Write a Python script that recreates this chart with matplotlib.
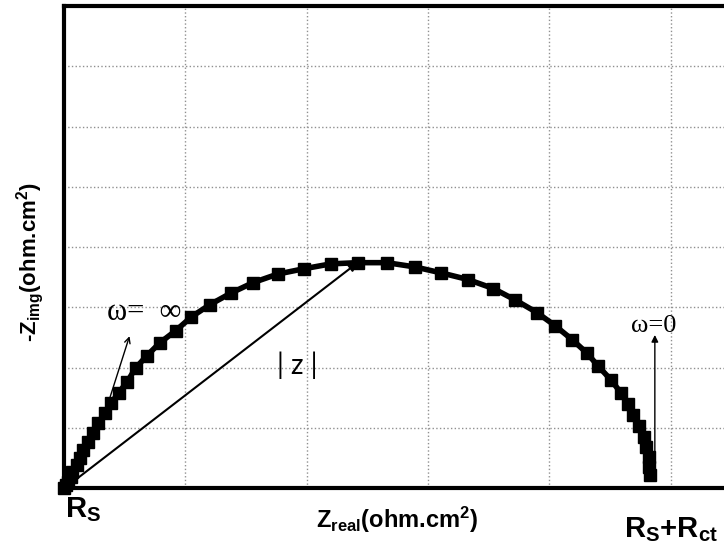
import matplotlib
matplotlib.use('Agg')
import matplotlib.pyplot as plt
import numpy as np

# Nyquist points (one grid step = 1 unit)
z_real = [0.00, 0.02, 0.03, 0.06, 0.07, 0.11, 0.13, 0.16, 0.20, 0.24,
          0.28, 0.34, 0.39, 0.45, 0.52, 0.59, 0.68, 0.79, 0.92, 1.05,
          1.20, 1.38, 1.56, 1.76, 1.98, 2.20, 2.42, 2.66, 2.89, 3.11,
          3.33, 3.54, 3.72, 3.90, 4.05, 4.19, 4.31, 4.40, 4.51, 4.59,
          4.65, 4.69, 4.74, 4.78, 4.80, 4.82, 4.82, 4.83]
z_imag = [0.00, 0.05, 0.10, 0.18, 0.27, 0.38, 0.50, 0.63, 0.76, 0.91,
          1.08, 1.25, 1.41, 1.58, 1.76, 1.99, 2.19, 2.41, 2.61, 2.84,
          3.04, 3.24, 3.41, 3.55, 3.64, 3.72, 3.74, 3.74, 3.67, 3.57,
          3.46, 3.31, 3.12, 2.91, 2.69, 2.46, 2.24, 2.03, 1.79, 1.58,
          1.40, 1.21, 1.03, 0.85, 0.68, 0.51, 0.35, 0.22]

plt.rcParams['mathtext.fontset'] = 'custom'
plt.rcParams['mathtext.rm'] = 'Liberation Sans'
plt.rcParams['mathtext.it'] = 'Liberation Sans:italic'
plt.rcParams['mathtext.bf'] = 'Liberation Sans:bold'
plt.rcParams['font.family'] = ['Liberation Sans', 'DejaVu Sans']

W, H = 724, 549
fig = plt.figure(figsize=(W / 100, H / 100), dpi=100)
ax = fig.add_axes([64 / W, 1 - 488 / H, 1 - 64 / W, (488 - 6) / H])

ax.plot(z_real, z_imag, color='black', lw=4, marker='s', ms=8.5, clip_on=False, zorder=3)

ax.set_xlim(0, 5.44)
ax.set_ylim(0, 8)
ax.set_xticks(np.arange(1, 6))
ax.set_yticks(np.arange(1, 8))
ax.tick_params(length=0, labelbottom=False, labelleft=False)
ax.grid(True, ls=':', color='#909090', lw=1)
for s in ['left', 'top', 'bottom']:
    ax.spines[s].set_linewidth(3)
ax.spines['right'].set_visible(False)

# |Z| arrow from origin to apex
top = int(np.argmax(z_imag))
ax.annotate('', xy=(z_real[top], z_imag[top]), xytext=(z_real[0] + 0.02, z_imag[0] + 0.02),
            arrowprops=dict(arrowstyle='-|>', color='black', lw=1.5, mutation_scale=12,
                            shrinkA=0, shrinkB=0), zorder=4)
ax.text(1.92, 2.03, '| z |', family=['Lato', 'DejaVu Sans'], fontsize=20, ha='center', va='center')

# omega annotations
ax.annotate('', xy=(0.54, 2.52), xytext=(0.38, 1.51),
            arrowprops=dict(arrowstyle='->', color='black', lw=1, shrinkA=0, shrinkB=0))
ax.text(0.355, 2.79, 'ω=  ∞', family=['Liberation Serif', 'DejaVu Serif'], fontsize=22,
        ha='left', va='baseline')
ax.annotate('', xy=(4.87, 2.54), xytext=(4.87, 0.18),
            arrowprops=dict(arrowstyle='-|>', color='black', lw=1, mutation_scale=10,
                            shrinkA=0, shrinkB=0))
ax.text(4.67, 2.59, 'ω=0', family=['Liberation Serif', 'DejaVu Serif'], fontsize=19,
        ha='left', va='baseline')

# axis labels
fig.text(65 / W, 1 - 517 / H, r'$\mathbf{R_S}$', fontsize=21, ha='left', va='baseline')
fig.text(397 / W, 1 - 528 / H, r'$\mathbf{Z_{real}}$(ohm.cm$^{\mathbf{2}}$)', fontsize=17,
         fontweight='bold', ha='center', va='baseline')
fig.text(718 / W, 1 - 537 / H, r'$\mathbf{R_S}$+$\mathbf{R_{ct}}$', fontsize=21,
         fontweight='bold', ha='right', va='baseline')
fig.text(30 / W, 1 - 262 / H, r'-$\mathbf{Z_{img}}$(ohm.cm$^{\mathbf{2}}$)', fontsize=16,
         fontweight='bold', rotation=90, ha='center', va='center')

fig.savefig('out.png', dpi=100)
